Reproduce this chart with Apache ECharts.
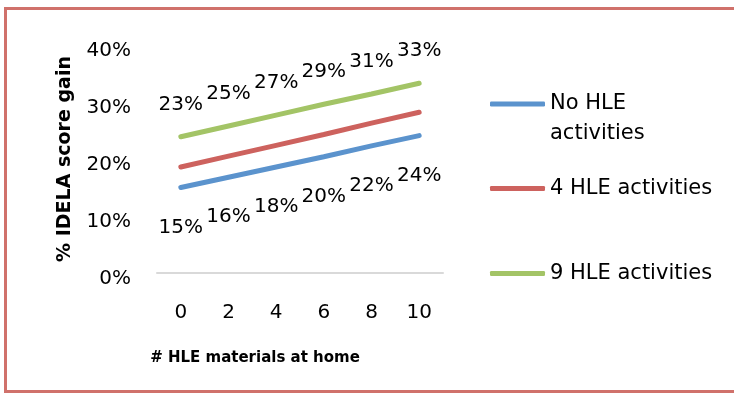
<!DOCTYPE html>
<html>
<head>
<meta charset="utf-8">
<script src="https://cdn.jsdelivr.net/npm/echarts@6/dist/echarts.min.js"></script>
<style>
  html, body { margin: 0; padding: 0; background: #fff; }
  #chart { width: 734px; height: 394px; }
</style>
</head>
<body>
<div id="chart"></div>
<script>
const categories = ['0', '2', '4', '6', '8', '10'];
const seriesNames = ['No HLE activities', '4 HLE activities', '9 HLE activities'];
const noActivities = [15.0, 16.8, 18.6, 20.4, 22.3, 24.1];
const fourActivities = [18.6, 20.5, 22.4, 24.3, 26.3, 28.2];
const nineActivities = [23.9, 25.8, 27.7, 29.6, 31.4, 33.3];
const noActivitiesLabels = ['15%', '16%', '18%', '20%', '22%', '24%'];
const nineActivitiesLabels = ['23%', '25%', '27%', '29%', '31%', '33%'];
const yTicks = [0, 10, 20, 30, 40];

const colors = ['#5b93cd', '#cd625e', '#a3c466'];
const font = '"DejaVu Sans", sans-serif';

const chart = echarts.init(document.getElementById('chart'));

function lineSeries(i, data, labels, pos, dist) {
  return {
    name: seriesNames[i],
    type: 'line',
    data: data,
    symbol: 'circle',
    symbolSize: 0,
    lineStyle: { width: 5, color: colors[i], cap: 'round' },
    itemStyle: { color: colors[i] },
    label: {
      show: !!labels,
      position: pos,
      distance: dist,
      fontFamily: font,
      fontSize: 20,
      color: '#000',
      formatter: p => labels ? labels[p.dataIndex] : ''
    },
    z: 3 - i
  };
}

function legendFor(i, top, extra) {
  return Object.assign({
    data: [seriesNames[i]],
    left: 490,
    top: top,
    padding: 0,
    icon: 'roundRect',
    itemWidth: 55,
    itemHeight: 5,
    itemGap: 0,
    selectedMode: false,
    textStyle: { fontFamily: font, fontSize: 21, color: '#000', padding: [5, 0, 0, 0] }
  }, extra || {});
}

chart.setOption({
  animation: false,
  graphic: [{
    type: 'rect',
    shape: { x: 5.5, y: 8.5, width: 900, height: 383 },
    style: { fill: 'none', stroke: '#d0716b', lineWidth: 3 },
    silent: true
  }],
  legend: [
    // empty first line keeps the icon beside "No HLE"
    legendFor(0, 55, {
      formatter: n => ' \n' + n.replace('No HLE ', 'No HLE\n'),
      textStyle: { fontFamily: font, fontSize: 21, color: '#000', lineHeight: 30, padding: [8, 0, 0, 0] }
    }),
    legendFor(1, 178),
    legendFor(2, 263)
  ],
  grid: { left: 157, right: 291, top: 45, bottom: 121 },
  xAxis: {
    type: 'category',
    data: categories,
    boundaryGap: true,
    axisLine: { lineStyle: { color: '#d9d9d9', width: 2 } },
    axisTick: { show: false },
    axisLabel: { margin: 30, fontFamily: font, fontSize: 20, color: '#000' },
    name: '# HLE materials at home',
    nameLocation: 'middle',
    nameGap: 78,
    nameTextStyle: { fontFamily: font, fontSize: 15, fontWeight: 'bold', color: '#000', padding: [0, 90, 0, 0] }
  },
  yAxis: {
    type: 'value',
    min: yTicks[0],
    max: yTicks[yTicks.length - 1],
    interval: 10,
    splitLine: { show: false },
    axisLine: { show: false },
    axisTick: { show: false },
    axisLabel: { margin: 26, fontFamily: font, fontSize: 20, color: '#000', verticalAlign: 'top', lineHeight: 11, formatter: v => v + '%' },
    name: '% IDELA score gain',
    nameLocation: 'middle',
    nameGap: 82,
    nameTextStyle: { fontFamily: font, fontSize: 19, fontWeight: 'bold', color: '#000' }
  },
  series: [
    lineSeries(0, noActivities, noActivitiesLabels, 'bottom', 30),
    lineSeries(1, fourActivities, null),
    lineSeries(2, nineActivities, nineActivitiesLabels, 'top', 22)
  ]
});
</script>
</body>
</html>
